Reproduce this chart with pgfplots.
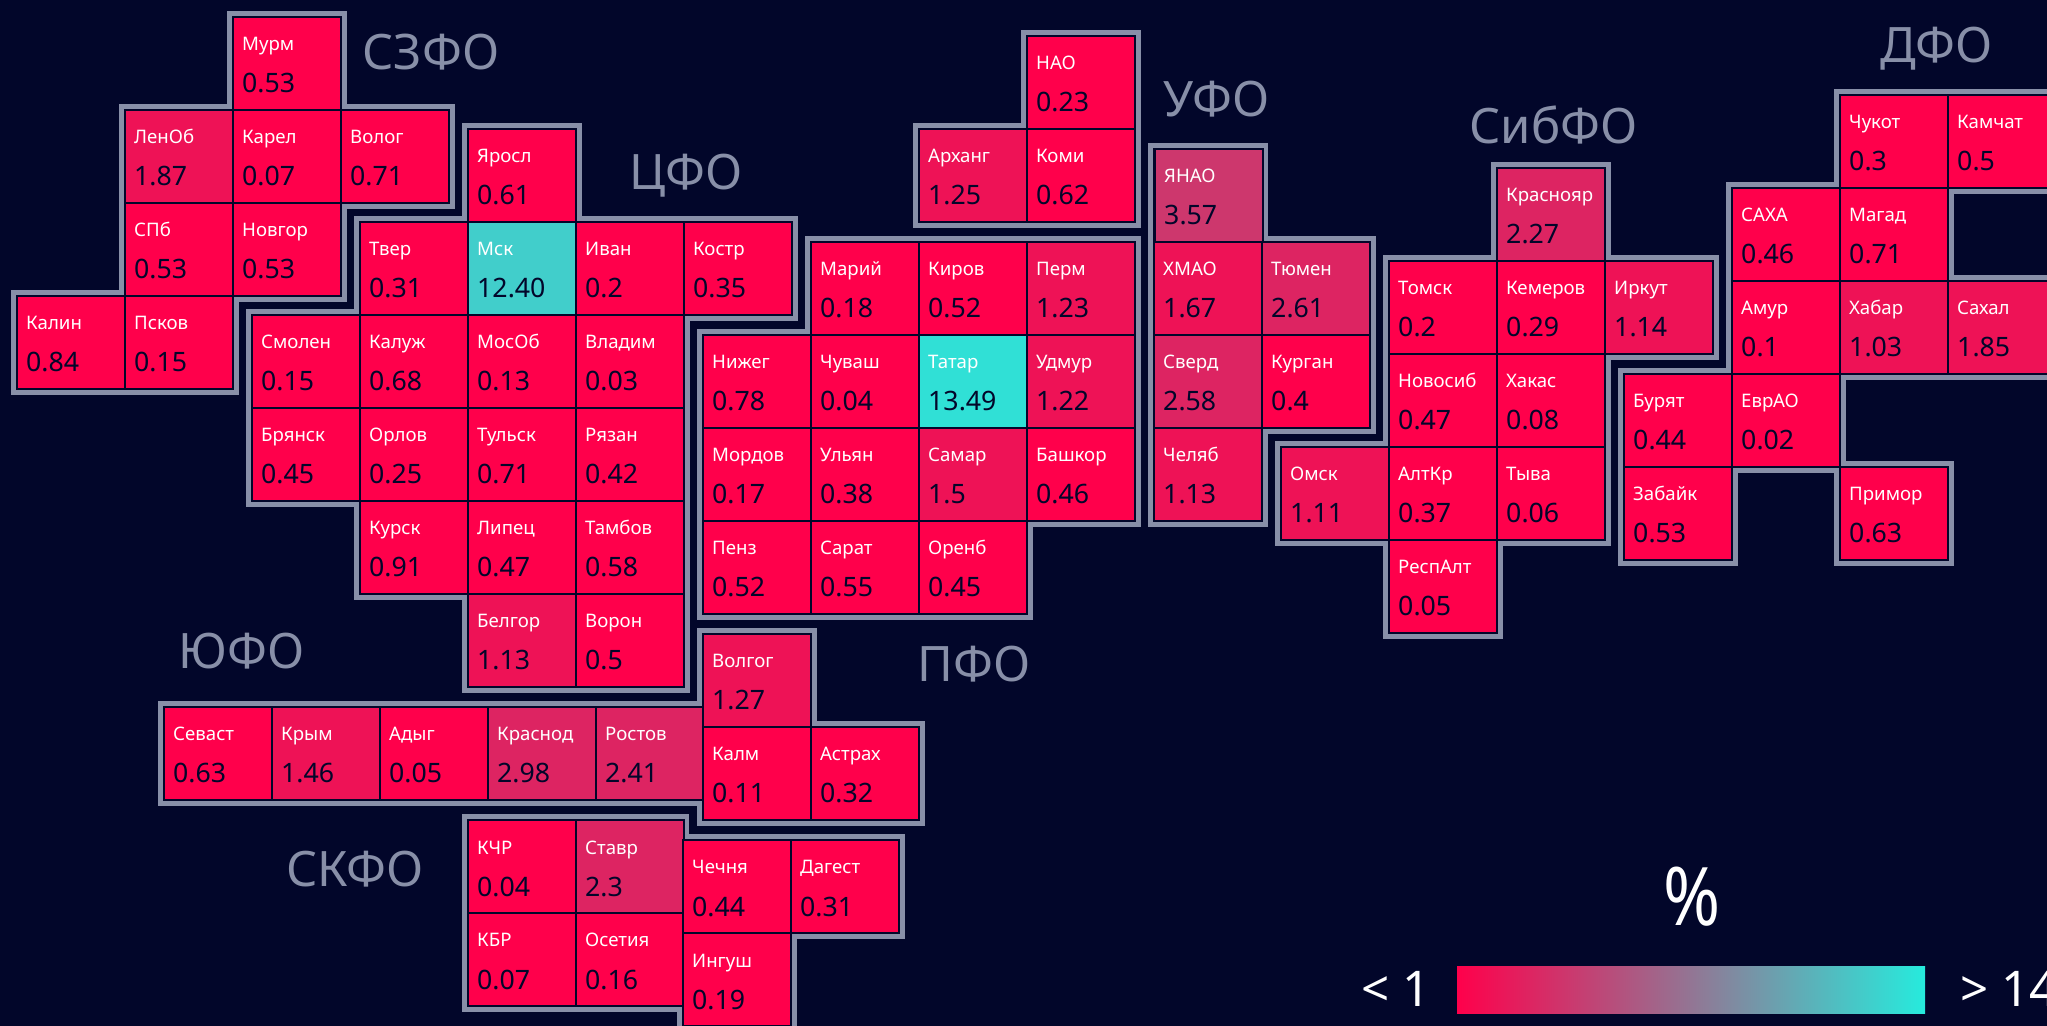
\documentclass[border=0pt]{standalone}
\usepackage{fontspec}
\setmainfont{Noto Sans}
\usepackage{pgfplots}
\usepackage{pgfplotstable}
\pgfplotsset{compat=1.18}
\definecolor{bgc}{RGB}{2,6,42}
\definecolor{outl}{RGB}{136,143,168}
\definecolor{lo}{RGB}{255,0,75}
\definecolor{hi}{RGB}{38,235,221}
\pgfdeclareplotmark{tile}{%
  \pgfpathrectangle{\pgfpoint{-5.4mm}{-4.65mm}}{\pgfpoint{10.8mm}{9.3mm}}%
  \pgfusepathqfillstroke}
\pgfplotstableread{
x y name val c
233 17 Мурм 0.53 0
125 110 ЛенОб 1.87 1
233 110 Карел 0.07 0
341 110 Волог 0.71 0
125 203 СПб 0.53 0
233 203 Новгор 0.53 0
17 296 Калин 0.84 0
125 296 Псков 0.15 0
1027 36 НАО 0.23 0
919 129 Арханг 1.25 1
1027 129 Коми 0.62 0
468 129 Яросл 0.61 0
360 222 Твер 0.31 0
468 222 Мск 12.40 11.3
576 222 Иван 0.2 0
684 222 Костр 0.35 0
252 315 Смолен 0.15 0
360 315 Калуж 0.68 0
468 315 МосОб 0.13 0
576 315 Владим 0.03 0
252 408 Брянск 0.45 0
360 408 Орлов 0.25 0
468 408 Тульск 0.71 0
576 408 Рязан 0.42 0
360 501 Курск 0.91 0
468 501 Липец 0.47 0
576 501 Тамбов 0.58 0
468 594 Белгор 1.13 1
576 594 Ворон 0.5 0
811 242 Марий 0.18 0
919 242 Киров 0.52 0
1027 242 Перм 1.23 1
703 335 Нижег 0.78 0
811 335 Чуваш 0.04 0
919 335 Татар 13.49 12.3
1027 335 Удмур 1.22 1
703 428 Мордов 0.17 0
811 428 Ульян 0.38 0
919 428 Самар 1.5 1
1027 428 Башкор 0.46 0
703 521 Пенз 0.52 0
811 521 Сарат 0.55 0
919 521 Оренб 0.45 0
164 707 Севаст 0.63 0
272 707 Крым 1.46 1
380 707 Адыг 0.05 0
488 707 Краснод 2.98 2
596 707 Ростов 2.41 2
703 634 Волгог 1.27 1
703 727 Калм 0.11 0
811 727 Астрах 0.32 0
468 820 КЧР 0.04 0
576 820 Ставр 2.3 2
468 913 КБР 0.07 0
576 913 Осетия 0.16 0
683 840 Чечня 0.44 0
791 840 Дагест 0.31 0
683 933 Ингуш 0.19 0
1155 149 ЯНАО 3.57 3
1154 242 ХМАО 1.67 1
1262 242 Тюмен 2.61 2
1154 335 Сверд 2.58 2
1262 335 Курган 0.4 0
1154 428 Челяб 1.13 1
1497 168 Краснояр 2.27 2
1389 261 Томск 0.2 0
1497 261 Кемеров 0.29 0
1605 261 Иркут 1.14 1
1389 354 Новосиб 0.47 0
1497 354 Хакас 0.08 0
1281 447 Омск 1.11 1
1389 447 АлтКр 0.37 0
1497 447 Тыва 0.06 0
1389 540 РеспАлт 0.05 0
1840 95 Чукот 0.3 0
1948 95 Камчат 0.5 0
1732 188 САХА 0.46 0
1840 188 Магад 0.71 0
1732 281 Амур 0.1 0
1840 281 Хабар 1.03 1
1948 281 Сахал 1.85 1
1624 374 Бурят 0.44 0
1732 374 ЕврАО 0.02 0
1624 467 Забайк 0.53 0
1840 467 Примор 0.63 0
}\tiles
\newcommand{\ttl}[3]{\node[anchor=base west,inner sep=0pt,text=outl,font=\fontsize{13.9pt}{14pt}\selectfont] at (axis cs:#1,#2) {#3};}
\begin{document}
\begin{tikzpicture}
\path[use as bounding box,clip] (0,0) rectangle (204.7mm,102.6mm);
\fill[bgc] (0,0) rectangle (204.7mm,102.6mm);
\begin{axis}[
  at={(0,0)},anchor=south west,
  scale only axis,width=204.7mm,height=102.6mm,
  xmin=0,xmax=2047,ymin=0,ymax=1026,y dir=reverse,
  hide axis,clip=false,
  colormap={tilemap}{color(0)=(lo) color(1)=(hi)},
  point meta min=0,point meta max=13,
  nodes near coords align={anchor=base west},
]
% district outlines
\pgfplotsset{outline/.style={draw=outl,line width=0.5mm,line join=miter,mark=none,forget plot}}
\addplot[outline] coordinates {(229.5,13.5)(344.5,13.5)(344.5,106.5)(452.5,106.5)(452.5,206.5)(344.5,206.5)(344.5,299.5)(236.5,299.5)(236.5,392.5)(13.5,392.5)(13.5,292.5)(121.5,292.5)(121.5,106.5)(229.5,106.5)} --cycle;
\addplot[outline] coordinates {(1023.5,32.5)(1138.5,32.5)(1138.5,225.5)(915.5,225.5)(915.5,125.5)(1023.5,125.5)} --cycle;
\addplot[outline] coordinates {(464.5,125.5)(579.5,125.5)(579.5,218.5)(795.5,218.5)(795.5,318.5)(687.5,318.5)(687.5,690.5)(464.5,690.5)(464.5,597.5)(356.5,597.5)(356.5,504.5)(248.5,504.5)(248.5,311.5)(356.5,311.5)(356.5,218.5)(464.5,218.5)} --cycle;
\addplot[outline] coordinates {(807.5,238.5)(1138.5,238.5)(1138.5,524.5)(1030.5,524.5)(1030.5,617.5)(699.5,617.5)(699.5,331.5)(807.5,331.5)} --cycle;
\addplot[outline] coordinates {(160.5,703.5)(699.5,703.5)(699.5,630.5)(814.5,630.5)(814.5,723.5)(922.5,723.5)(922.5,823.5)(699.5,823.5)(699.5,803.5)(160.5,803.5)} --cycle;
\addplot[outline] coordinates {(464.5,816.5)(686,816.5)(686,836.5)(902.5,836.5)(902.5,936.5)(794.5,936.5)(794.5,1060)(679.5,1060)(679.5,1009.5)(464.5,1009.5)} --cycle;
\addplot[outline] coordinates {(1150.5,145.5)(1265.5,145.5)(1265.5,238.5)(1373.5,238.5)(1373.5,431.5)(1265.5,431.5)(1265.5,524.5)(1150.5,524.5)} --cycle;
\addplot[outline] coordinates {(1493.5,164.5)(1608.5,164.5)(1608.5,257.5)(1716.5,257.5)(1716.5,357.5)(1608.5,357.5)(1608.5,543.5)(1500.5,543.5)(1500.5,636.5)(1385.5,636.5)(1385.5,543.5)(1277.5,543.5)(1277.5,443.5)(1385.5,443.5)(1385.5,257.5)(1493.5,257.5)} --cycle;
\addplot[outline] coordinates {(1836.5,91.5)(2060,91.5)(2060,191.5)(1951.5,191.5)(1951.5,277.5)(2060,277.5)(2060,377.5)(1843.5,377.5)(1843.5,463.5)(1951.5,463.5)(1951.5,563.5)(1836.5,563.5)(1836.5,470.5)(1735.5,470.5)(1735.5,563.5)(1620.5,563.5)(1620.5,370.5)(1728.5,370.5)(1728.5,184.5)(1836.5,184.5)} --cycle;
% tiles
\addplot[scatter,only marks,mark=tile,line width=0.24mm,
  scatter/use mapped color={draw=bgc,fill=mapped color},
  scatter src=explicit]
  table[x expr=\thisrow{x}+54,y expr=\thisrow{y}+46.5,meta=c] {\tiles};
% names
\addplot[only marks,mark=none,point meta=explicit symbolic,nodes near coords,
  every node near coord/.append style={inner sep=0pt,text=white,font=\fontsize{5.3pt}{6pt}\selectfont}]
  table[x expr=\thisrow{x}+8.5,y expr=\thisrow{y}+34,meta=name] {\tiles};
% values
\addplot[only marks,mark=none,point meta=explicit symbolic,nodes near coords,
  every node near coord/.append style={inner sep=0pt,text=bgc,font=\fontsize{7.6pt}{8pt}\selectfont}]
  table[x expr=\thisrow{x}+8.5,y expr=\thisrow{y}+76,meta=val] {\tiles};
% district names
\ttl{362}{70}{СЗФО}
\ttl{629}{190}{ЦФО}
\ttl{917}{682}{ПФО}
\ttl{1163}{117}{УФО}
\ttl{1469}{144}{СибФО}
\ttl{1880}{63}{ДФО}
\ttl{178}{669}{ЮФО}
\ttl{286}{887}{СКФО}
% legend
\shade[left color=lo,right color=hi] (axis cs:1457,966) rectangle (axis cs:1925,1013);
\node[anchor=base,inner sep=0pt,text=white] at (axis cs:1692,925) {\fontsize{23pt}{24pt}\selectfont\scalebox{0.85}[1]{\%}};
\node[anchor=base west,inner sep=0pt,text=white,font=\fontsize{14pt}{15pt}\selectfont] at (axis cs:1361,1006) {< 1};
\node[anchor=base west,inner sep=0pt,text=white,font=\fontsize{14pt}{15pt}\selectfont] at (axis cs:1960,1006) {> 14};
\end{axis}
\end{tikzpicture}
\end{document}
